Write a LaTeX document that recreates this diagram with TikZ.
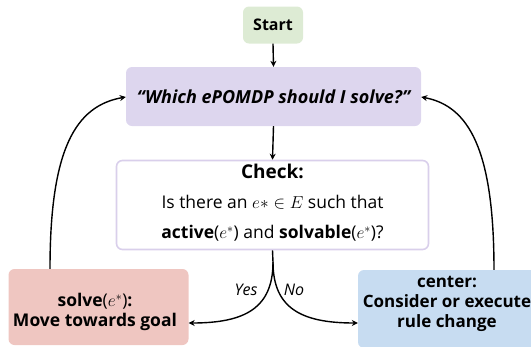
\documentclass[tikz,border=0pt]{standalone}
\usepackage[no-math]{fontspec}
\setmainfont{Open Sans}
\usetikzlibrary{arrows.meta}
\definecolor{startgreen}{HTML}{DDEBD4}
\definecolor{qpurple}{HTML}{DDD6EE}
\definecolor{checkborder}{HTML}{D9CFEB}
\definecolor{solvepink}{HTML}{EFC6C1}
\definecolor{centerblue}{HTML}{C7DCF1}
\tikzset{
  box/.style={rectangle, rounded corners=6pt, align=center, inner sep=0pt},
  boxtext/.style={align=center, inner sep=0pt, font=\fontsize{17}{20}\selectfont\bfseries},
  conn/.style={line width=1.4pt, -{Stealth[length=6pt,width=6pt]}},
}
\begin{document}
\begin{tikzpicture}[x=1pt,y=-1pt]
\useasboundingbox (0,0) rectangle (531,346);
\node[box, fill=startgreen, minimum width=60pt, minimum height=37pt, font=\fontsize{16}{19}\selectfont\bfseries] (start) at (273,25) {Start};
\node[box, fill=qpurple, minimum width=295pt, minimum height=59pt, font=\fontsize{18}{21}\selectfont\bfseries\itshape] (q) at (273.5,96.5) {“Which ePOMDP should I solve?”};
\node[box, draw=checkborder, line width=1.6pt, fill=white, minimum width=312pt, minimum height=89pt] (check) at (272.5,205) {};
\node[align=center, inner sep=0pt, font=\fontsize{17.5}{30}\selectfont] (checktext) at (272.5,203) {{\fontsize{19}{30}\selectfont\textbf{Check:}}\\ Is there an $e*\in E$ such that\\ \textbf{active}($e^{*}$) and \textbf{solvable}($e^{*}$)?};
\node[box, fill=solvepink, minimum width=180pt, minimum height=76pt] (solve) at (98.5,307) {};
\node[boxtext, font=\fontsize{17.5}{20}\selectfont\bfseries] (solvetext) at (95,312) {solve\mdseries($e^{*}$)\bfseries:\\ Move towards goal};
\node[box, fill=centerblue, minimum width=190pt, minimum height=78pt] (center) at (453,309) {};
\node[boxtext] (centertext) at (447,304) {center:\\ Consider or execute\\ rule change};
\coordinate (split) at (273,262);
\draw[conn] (start.south) -- (q.north);
\draw[conn] (q.south) -- (check.north);
\draw[line width=1.4pt] (check.south) -- (split);
\draw[conn] (split) .. controls (273,308) and (245,323) .. (solve.east |- 0,323);
\draw[conn] (split) .. controls (273,308) and (301,323) .. (center.west |- 0,323);
\node[font=\fontsize{16}{18}\selectfont\itshape] (yes) at (246,290) {Yes};
\node[font=\fontsize{16}{18}\selectfont\itshape] (no) at (294,290) {No};
\draw[conn] (solve.north -| 50,0) .. controls (50,150) and (75,106) .. (q.west |- 0,97);
\draw[conn] (center.north -| 494,0) .. controls (494,150) and (469,106) .. (q.east |- 0,97);
\end{tikzpicture}
\end{document}
